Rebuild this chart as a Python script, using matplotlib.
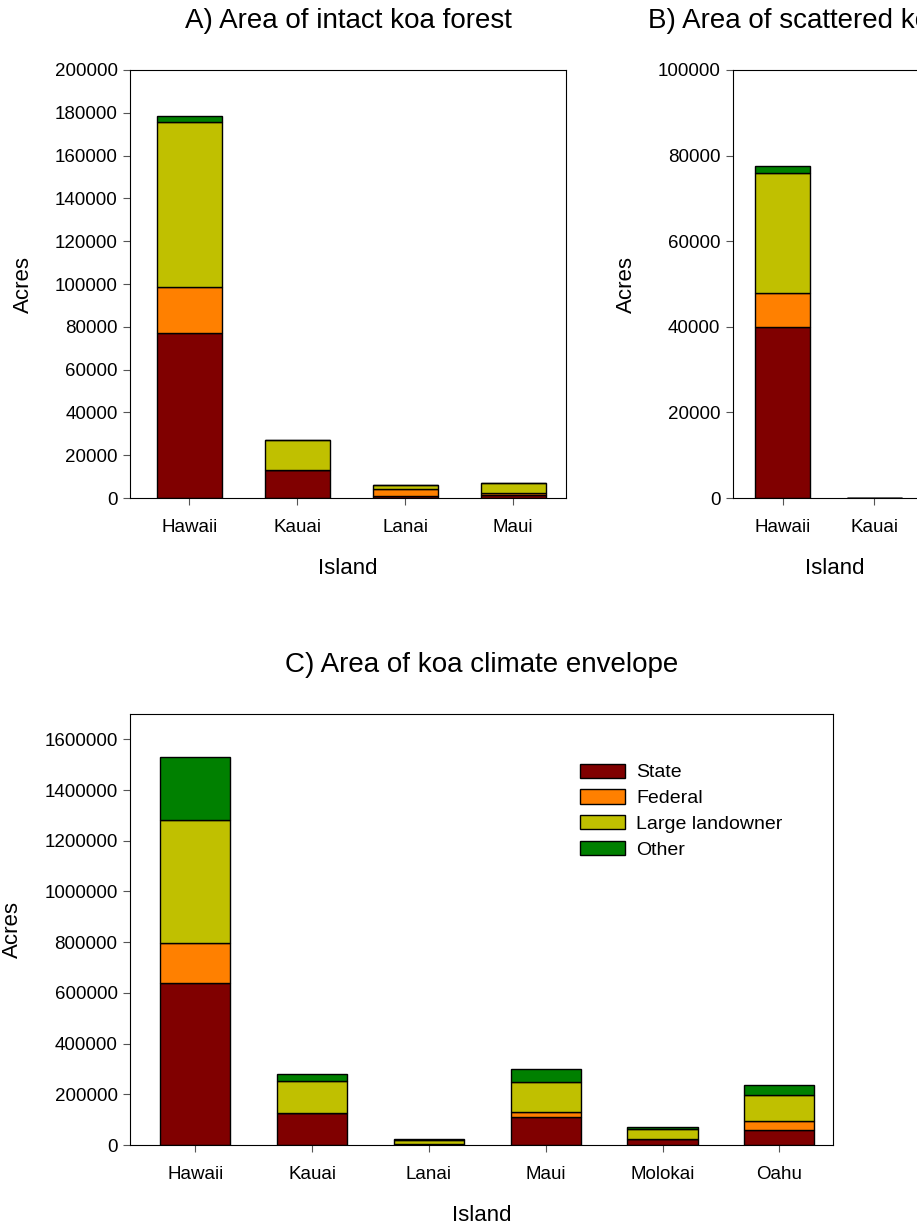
import matplotlib
matplotlib.use("Agg")
import matplotlib.pyplot as plt
from matplotlib.ticker import ScalarFormatter
import numpy as np

plt.rcParams['font.family'] = ['Liberation Sans', 'DejaVu Sans']

owners = ["State", "Federal", "Large landowner", "Other"]
colors = ["#800000", "#ff8000", "#c0c000", "#008000"]

# A) intact koa forest
islands_a = ["Hawaii", "Kauai", "Lanai", "Maui"]
state_a = [77000, 13000, 800, 1200]
federal_a = [21500, 0, 3300, 1100]
large_a = [77000, 14000, 2100, 4700]
other_a = [3000, 300, 100, 100]

# B) scattered koa forest
islands_b = ["Hawaii", "Kauai"]
state_b = [40000, 0]
federal_b = [8000, 0]
large_b = [28000, 0]
other_b = [1600, 0]

# C) koa climate envelope
islands_c = ["Hawaii", "Kauai", "Lanai", "Maui", "Molokai", "Oahu"]
state_c = [640000, 125000, 2000, 110000, 24000, 59000]
federal_c = [158000, 0, 0, 22000, 0, 35000]
large_c = [482000, 127000, 19000, 118000, 38000, 102000]
other_c = [249000, 28000, 1500, 49000, 8000, 42000]


def stacked(ax, cats, series, ymax, step, title):
    x = np.arange(len(cats))
    bottom = np.zeros(len(cats))
    for vals, c, lab in zip(series, colors, owners):
        ax.bar(x, vals, 0.6, bottom=bottom, color=c, edgecolor="black",
               linewidth=1.0, label=lab)
        bottom += np.array(vals)
    ax.set_xticks(x)
    ax.set_xticklabels(cats)
    ax.set_ylim(0, ymax)
    ax.set_yticks(np.arange(0, ymax + 1, step))
    fmt = ScalarFormatter(useOffset=False)
    fmt.set_scientific(False)
    ax.yaxis.set_major_formatter(fmt)
    ax.tick_params(direction="out", length=5, labelsize=13.5, color="#555555")
    ax.tick_params(axis="x", pad=10)
    ax.tick_params(axis="y", pad=4)
    ax.set_xlabel("Island", fontsize=16, labelpad=16)
    ax.set_ylabel("Acres", fontsize=16, labelpad=15)
    ax.set_title(title, fontsize=20, pad=30)
    for s in ax.spines.values():
        s.set_linewidth(0.8)


fig = plt.figure(figsize=(9.17, 12.3), dpi=100)

ax_a = fig.add_axes([0.1418, 0.5951, 0.4755, 0.348])
stacked(ax_a, islands_a, [state_a, federal_a, large_a, other_a],
        200000, 20000, "A) Area of intact koa forest")
ax_a.set_xlim(-0.55, 3.49)

ax_b = fig.add_axes([0.7993, 0.5951, 0.2225, 0.348])
stacked(ax_b, islands_b, [state_b, federal_b, large_b, other_b],
        100000, 20000, "B) Area of scattered koa forest")
ax_b.set_xlim(-0.54, 1.68)

ax_c = fig.add_axes([0.1418, 0.0691, 0.7666, 0.3504])
stacked(ax_c, islands_c, [state_c, federal_c, large_c, other_c],
        1700000, 200000, "C) Area of koa climate envelope")
ax_c.set_yticks(np.arange(0, 1600001, 200000))
ax_c.set_xlim(-0.56, 5.46)

ax_c.legend(loc="upper left", bbox_to_anchor=(0.64, 0.885), frameon=False,
            fontsize=14, handlelength=2.3, handleheight=0.75,
            handletextpad=0.6, labelspacing=0.4, borderaxespad=0,
            borderpad=0)

fig.savefig("out.png", dpi=100)
